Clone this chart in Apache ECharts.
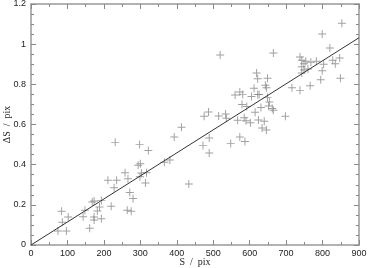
<!DOCTYPE html>
<html><head><meta charset="utf-8">
<script src="https://cdn.jsdelivr.net/npm/echarts@6/dist/echarts.min.js"></script>
<style>html,body{margin:0;padding:0;background:#fff}#c{width:368px;height:268px}</style>
</head><body><div id="c"></div>
<script>
const sX = [74,84,86,97,102,143,148,161,168,173,173,173,182,188,193,193,211,220,228,231,235,258,264,266,271,275,280,294,298,300,299,303,314,317,322,366,381,393,413,433,472,475,487,489,489,515,519,534,536,548,560,567,573,573,579,581,585,587,590,592,602,605,612,615,619,622,622,624,626,631,634,640,643,646,646,649,649,652,654,662,665,665,698,716,738,738,743,743,743,749,749,754,760,766,768,783,795,799,799,803,820,828,835,847,849,853];
const dS = [0.07,0.168,0.113,0.07,0.139,0.141,0.173,0.083,0.214,0.219,0.139,0.124,0.169,0.189,0.221,0.131,0.322,0.193,0.285,0.511,0.322,0.36,0.173,0.33,0.261,0.168,0.232,0.397,0.501,0.405,0.34,0.358,0.309,0.36,0.471,0.412,0.423,0.538,0.586,0.304,0.496,0.641,0.662,0.458,0.533,0.642,0.946,0.652,0.631,0.506,0.747,0.621,0.762,0.538,0.7,0.75,0.634,0.515,0.619,0.69,0.609,0.739,0.78,0.661,0.856,0.828,0.749,0.622,0.749,0.685,0.583,0.616,0.795,0.783,0.573,0.83,0.735,0.692,0.712,0.68,0.956,0.671,0.641,0.783,0.936,0.77,0.92,0.888,0.856,0.903,0.871,0.915,0.876,0.793,0.91,0.915,0.823,1.051,0.868,0.9,0.981,0.92,0.903,0.931,0.83,1.104];
const fitX = [0, 900];
const fitY = [0, 1.032];
const xTicks = [0,100,200,300,400,500,600,700,800,900];
const yTicks = [0,0.2,0.4,0.6,0.8,1,1.2];

const pts = sX.map((x,i)=>[x,dS[i]]);
const fit = fitX.map((x,i)=>[x,fitY[i]]);
const frame = '#999';
const axBase = {
  type:'value', axisLine:{show:true,onZero:false,lineStyle:{color:frame,width:1.5}},
  axisTick:{show:true,inside:true,length:5,lineStyle:{color:'#888'}},
  minorTick:{show:true,length:3,lineStyle:{color:'#888'}},
  splitLine:{show:false}
};
const lbl = {color:'#222',fontSize:9,fontFamily:'Liberation Sans'};
const chart = echarts.init(document.getElementById('c'));
chart.setOption({
  animation:false,
  grid:{left:31,right:9,top:4,bottom:23,containLabel:false,outerBoundsMode:'none'},
  xAxis:[
    Object.assign({},axBase,{position:'bottom',min:0,max:900,interval:100,minorTick:Object.assign({},axBase.minorTick,{splitNumber:2}),
      axisLabel:Object.assign({},lbl,{margin:4,formatter:v=>xTicks.includes(v)?String(v):''}),
      name:'S  /  pix',nameLocation:'middle',nameGap:12,nameMoveOverlap:false,nameTextStyle:{color:'#222',fontSize:10,fontFamily:'Liberation Serif'}}),
    Object.assign({},axBase,{position:'top',min:0,max:900,interval:100,minorTick:Object.assign({},axBase.minorTick,{splitNumber:2}),axisLabel:{show:false}})
  ],
  yAxis:[
    Object.assign({},axBase,{position:'left',min:0,max:1.2,interval:0.2,minorTick:Object.assign({},axBase.minorTick,{splitNumber:4}),
      axisLabel:Object.assign({},lbl,{margin:5,formatter:v=>String(+v.toFixed(1))}),
      name:'ΔS  /  pix',nameLocation:'middle',nameGap:19,nameRotate:90,nameMoveOverlap:false,nameTextStyle:{color:'#222',fontSize:10,fontFamily:'Liberation Serif'}}),
    Object.assign({},axBase,{position:'right',min:0,max:1.2,interval:0.2,minorTick:Object.assign({},axBase.minorTick,{splitNumber:4}),axisLabel:{show:false}})
  ],
  series:[
    {type:'scatter',data:pts,symbol:'path://M4.4,0h1.2v4.4h4.4v1.2h-4.4v4.4h-1.2v-4.4h-4.4v-1.2h4.4z',symbolSize:8,
      itemStyle:{color:'#888'},silent:true},
    {type:'line',data:fit,symbol:'none',lineStyle:{color:'#333',width:1},silent:true}
  ]
});
</script></body></html>
